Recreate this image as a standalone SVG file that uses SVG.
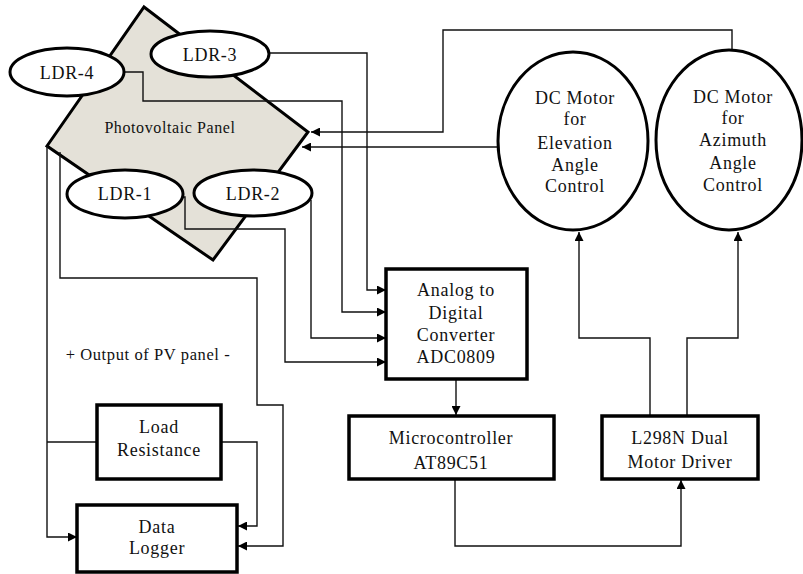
<svg xmlns="http://www.w3.org/2000/svg" width="803" height="574" viewBox="0 0 803 574">
<style>
.box{fill:#fff;stroke:#000;stroke-width:3.5}
.ell{fill:#fff;stroke:#000;stroke-width:3}
.panel{fill:#e4e1d8;stroke:#000;stroke-width:3}
.wire{fill:none;stroke:#111;stroke-width:1.4}
text{font-family:'Liberation Serif','DejaVu Serif',serif;font-size:18px;fill:#111;text-anchor:middle;letter-spacing:0.7px}
.sm{font-size:16px;letter-spacing:0.6px}
</style>
<defs>
<marker id="arr" viewBox="0 0 10 10" refX="10" refY="5" markerWidth="9" markerHeight="9" markerUnits="userSpaceOnUse" orient="auto">
<path d="M0,0 L10,5 L0,10 z" fill="#000"/>
</marker>
</defs>
<rect width="803" height="574" fill="#fff"/>

<g id="panel">
<polygon class="panel" points="144,7 308,132 213,260 47,146"/>
<text class="sm" x="170" y="133">Photovoltaic Panel</text>
</g>

<g id="connectors">
<polyline class="wire" points="269,53 367,53 367,290 386,290" marker-end="url(#arr)"/>
<polyline class="wire" points="125,72 143,72 143,101 342,101 342,312 386,312" marker-end="url(#arr)"/>
<polyline class="wire" points="311,200 311,338 386,338" marker-end="url(#arr)"/>
<polyline class="wire" points="183,197 185,197 185,229 285,229 285,362 386,362" marker-end="url(#arr)"/>
<polyline class="wire" points="732,50 732,30 443,30 443,132 311,132" marker-end="url(#arr)"/>
<polyline class="wire" points="498,147 302,147" marker-end="url(#arr)"/>
<polyline class="wire" points="456,379 456,415" marker-end="url(#arr)"/>
<polyline class="wire" points="455,479 455,546 681,546 681,480" marker-end="url(#arr)"/>
<polyline class="wire" points="650,416 650,338 579,338 579,232" marker-end="url(#arr)"/>
<polyline class="wire" points="687,416 687,338 738,338 738,232" marker-end="url(#arr)"/>
<polyline class="wire" points="47,146 47,537 77,537" marker-end="url(#arr)"/>
<polyline class="wire" points="47,442 97,442"/>
<polyline class="wire" points="60,152 60,278 257,278 257,405 283,405 283,546 238,546" marker-end="url(#arr)"/>
<polyline class="wire" points="221,442 257,442 257,526 238,526" marker-end="url(#arr)"/>
</g>

<g id="ldr4">
<ellipse class="ell" cx="67" cy="72" rx="57" ry="24"/>
<text x="67" y="79">LDR-4</text>
</g>
<g id="ldr3">
<ellipse class="ell" cx="210" cy="54" rx="59" ry="23"/>
<text x="210" y="61">LDR-3</text>
</g>
<g id="ldr1">
<ellipse class="ell" cx="125" cy="194" rx="58" ry="24"/>
<text x="125" y="200">LDR-1</text>
</g>
<g id="ldr2">
<ellipse class="ell" cx="253" cy="193" rx="59" ry="23"/>
<text x="253" y="200">LDR-2</text>
</g>

<g id="motor-elevation">
<ellipse class="ell" cx="573" cy="141" rx="75" ry="89"/>
<text x="575" y="104">DC Motor</text>
<text x="575" y="125">for</text>
<text x="575" y="149">Elevation</text>
<text x="575" y="171">Angle</text>
<text x="575" y="192">Control</text>
</g>
<g id="motor-azimuth">
<ellipse class="ell" cx="729" cy="140" rx="73" ry="90"/>
<text x="733" y="103">DC Motor</text>
<text x="733" y="124">for</text>
<text x="733" y="146">Azimuth</text>
<text x="733" y="169">Angle</text>
<text x="733" y="191">Control</text>
</g>

<g id="adc">
<rect class="box" x="386" y="269" width="141" height="110"/>
<text x="456" y="296">Analog to</text>
<text x="456" y="319">Digital</text>
<text x="456" y="341">Converter</text>
<text x="456" y="363">ADC0809</text>
</g>
<g id="micro">
<rect class="box" x="349" y="416" width="205" height="63"/>
<text x="451" y="444">Microcontroller</text>
<text x="451" y="469">AT89C51</text>
</g>
<g id="driver">
<rect class="box" x="602" y="416" width="156" height="63"/>
<text x="680" y="444">L298N Dual</text>
<text x="680" y="468">Motor Driver</text>
</g>
<g id="load">
<rect class="box" x="97" y="405" width="124" height="74"/>
<text x="159" y="433">Load</text>
<text x="159" y="456">Resistance</text>
</g>
<g id="logger">
<rect class="box" x="77" y="505" width="160" height="67"/>
<text x="157" y="533">Data</text>
<text x="157" y="554">Logger</text>
</g>
<g id="output-label">
<text class="sm" x="148" y="360" style="font-size:16.5px">+ Output of PV panel -</text>
</g>
</svg>
